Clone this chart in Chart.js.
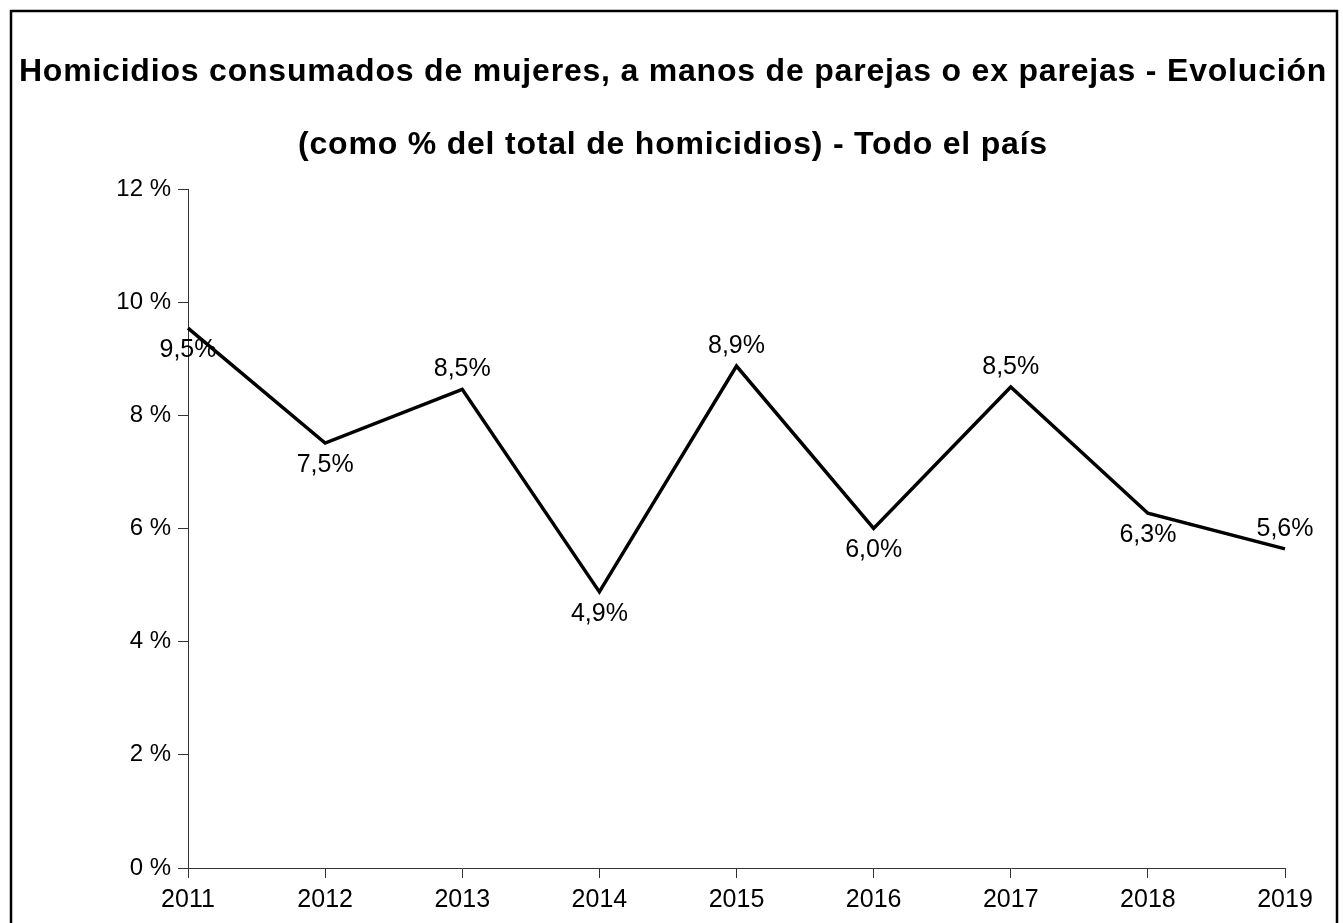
<!DOCTYPE html>
<html>
<head>
<meta charset="utf-8">
<script src="https://cdn.jsdelivr.net/npm/chart.js@4/dist/chart.umd.min.js"></script>
<style>
  html, body { margin: 0; padding: 0; background: #fff; }
  canvas { display: block; }
</style>
</head>
<body>
<canvas id="c" width="1343" height="923"></canvas>
<script>
const years = ['2011','2012','2013','2014','2015','2016','2017','2018','2019'];
const sharePct = [9.54, 7.51, 8.46, 4.88, 8.87, 6.0, 8.5, 6.27, 5.64];
const titleLines = [
  'Homicidios consumados de mujeres, a manos de parejas o ex parejas - Evolución',
  '(como % del total de homicidios) - Todo el país'
];
const yMin = 0, yMax = 12, yStep = 2;

const FONT = "'Liberation Sans', Arial, sans-serif";

const frame = {
  id: 'frame',
  beforeDraw(chart) {
    const ctx = chart.ctx;
    ctx.save();
    ctx.fillStyle = '#fff';
    ctx.fillRect(0, 0, chart.width, chart.height);
    ctx.strokeStyle = '#000';
    ctx.lineWidth = 2.5;
    ctx.strokeRect(11, 11, 1326, 1000);
    ctx.restore();
  }
};

const chartTitle = {
  id: 'chartTitle',
  afterDraw(chart, args, opts) {
    const ctx = chart.ctx;
    ctx.save();
    ctx.font = opts.font;
    if ('letterSpacing' in ctx) ctx.letterSpacing = opts.letterSpacing;
    ctx.fillStyle = '#000';
    ctx.textAlign = 'center';
    ctx.textBaseline = 'middle';
    opts.lines.forEach((line, i) => {
      ctx.fillText(line, opts.centerX, opts.firstY + i * opts.lineGap);
    });
    ctx.restore();
  }
};

const valueLabels = {
  id: 'valueLabels',
  afterDatasetsDraw(chart, args, opts) {
    const ctx = chart.ctx;
    const meta = chart.getDatasetMeta(0);
    const data = chart.data.datasets[0].data;
    ctx.save();
    ctx.font = opts.font;
    ctx.fillStyle = '#000';
    ctx.textAlign = 'center';
    ctx.textBaseline = 'middle';
    meta.data.forEach((pt, i) => {
      const above = opts.above[i];
      const txt = data[i].toFixed(1).replace('.', ',') + '%';
      ctx.fillText(txt, pt.x, pt.y + (above ? -opts.upOffset : opts.downOffset));
    });
    ctx.restore();
  }
};

new Chart(document.getElementById('c'), {
  type: 'line',
  data: {
    labels: years,
    datasets: [{
      data: sharePct,
      borderColor: '#000',
      borderWidth: 3.5,
      borderJoinStyle: 'miter',
      pointRadius: 0,
      fill: false,
      tension: 0
    }]
  },
  options: {
    responsive: false,
    animation: false,
    layout: { padding: { top: 189, left: 12, right: 58, bottom: 0 } },
    plugins: {
      legend: { display: false },
      tooltip: { enabled: false },
      title: { display: false },
      chartTitle: {
        lines: titleLines,
        font: "bold 32px " + FONT,
        letterSpacing: '0.8px',
        centerX: 673,
        firstY: 72,
        lineGap: 73
      },
      valueLabels: {
        font: "25px " + FONT,
        above: [false, false, true, false, true, false, true, false, true],
        upOffset: 20,
        downOffset: 22
      }
    },
    scales: {
      x: {
        offset: false,
        border: { display: true, color: '#333', width: 1 },
        grid: { drawOnChartArea: false, drawTicks: true, tickLength: 10, color: '#333' },
        ticks: { color: '#000', font: { family: FONT, size: 25 }, padding: 7, maxRotation: 0, autoSkip: false },
        afterFit(scale) { scale.height = 923 - 868; }
      },
      y: {
        min: yMin, max: yMax,
        border: { display: true, color: '#333', width: 1 },
        grid: { drawOnChartArea: false, drawTicks: true, tickLength: 10, color: '#333' },
        ticks: {
          stepSize: yStep,
          color: '#000',
          font: { family: FONT, size: 24 },
          padding: 7,
          callback: v => v + ' %'
        },
        afterFit(scale) { scale.width = 188 - 12; }
      }
    }
  },
  plugins: [frame, chartTitle, valueLabels]
});
</script>
</body>
</html>
